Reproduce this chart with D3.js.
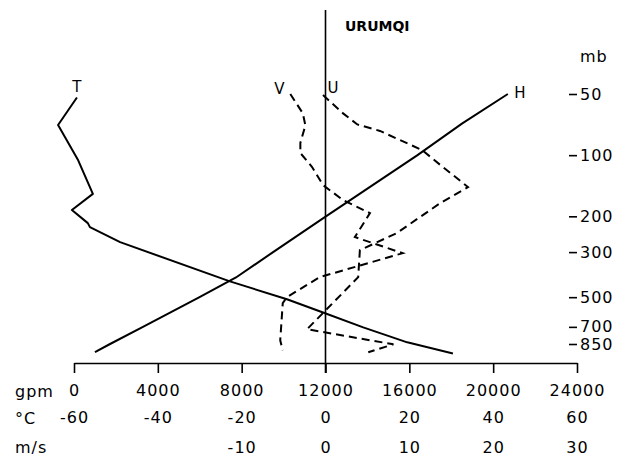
<!DOCTYPE html>
<html>
<head>
<meta charset="utf-8">
<script src="https://cdn.jsdelivr.net/npm/d3@7"></script>
<style>
  body { margin: 0; background: #fff; }
  svg { display: block; font-family: "DejaVu Sans", sans-serif; }
</style>
</head>
<body>
<div id="chart"></div>
<script>
// tick labels
const pressureTicks = [50, 100, 200, 300, 500, 700, 850];
const gpmTicks = [0, 4000, 8000, 12000, 16000, 20000, 24000];
const tempTicks = [-60, -40, -20, 0, 20, 40, 60];
const windTicks = [-10, 0, 10, 20, 30];

// T (deg C) against pressure (mb)
const tempP = [52, 71, 106, 155, 186, 216, 226, 268, 418, 512, 600, 704, 834, 946];
const tempC = [-59.3, -63.8, -59.0, -55.5, -60.5, -56.7, -56.2, -49.0, -22.8, -9.2, -0.1, 9.0, 19.5, 30.4];

// H (gpm) against pressure
const heightP = [933, 850, 700, 500, 400, 300, 200, 150, 100, 70, 50];
const heightGpm = [1000, 1720, 3290, 5990, 7730, 9500, 12020, 13840, 16390, 18510, 20700];

// U wind (m/s)
const uP = [50.6, 62.3, 70.6, 76, 94.3, 111.8, 143.5, 172, 241.8, 293.6, 398.6, 719, 853, 933];
const uMs = [-0.3, 2.1, 3.8, 6.5, 11.5, 13.7, 17.0, 13.7, 8.5, 4.1, 3.9, -2.2, 8.1, 5.1];

// V wind (m/s)
const vP = [50, 62.3, 71.4, 87.1, 97.6, 114.4, 140.4, 166.4, 192.8, 253, 303.6, 398.6, 500, 535, 815, 913];
const vMs = [-4.2, -2.7, -2.4, -3.0, -3.0, -1.6, -0.3, 2.1, 5.3, 3.5, 9.2, -0.7, -4.6, -5.1, -5.4, -5.1];

const width = 623, height = 459;

const svg = d3.select("#chart").append("svg")
    .attr("width", width)
    .attr("height", height);

svg.append("rect").attr("width", width).attr("height", height).attr("fill", "#fff");

// all three bottom scales share the same pixel range
const x = d3.scaleLinear().domain([0, 24000]).range([74, 577]);
const xT = d3.scaleLinear().domain([-60, 60]).range([74, 577]);
const xW = d3.scaleLinear().domain([-30, 30]).range([74, 577]);
const y = d3.scaleLog().domain([50, 850]).range([94, 344]);

function styleAxis(g) {
    g.attr("font-family", null)
        .attr("font-size", 16)
        .attr("letter-spacing", 1);
    g.selectAll("line").attr("stroke", "#000").attr("stroke-width", 1.6);
    g.selectAll("path").attr("stroke", "#000").attr("stroke-width", 1.6);
    g.selectAll("text").attr("fill", "#000");
}

// gpm axis
svg.append("g")
    .attr("transform", "translate(0,363)")
    .call(d3.axisBottom(x).tickValues(gpmTicks).tickSize(10).tickSizeOuter(0).tickPadding(12).tickFormat(String))
    .call(styleAxis);

// deg C row
svg.append("g")
    .attr("transform", "translate(0,412)")
    .call(d3.axisBottom(xT).tickValues(tempTicks).tickSize(0).tickPadding(0).tickFormat(String))
    .call(styleAxis)
    .call(g => g.select(".domain").remove());

// m/s row
svg.append("g")
    .attr("transform", "translate(0,442)")
    .call(d3.axisBottom(xW).tickValues(windTicks).tickSize(0).tickPadding(0).tickFormat(String))
    .call(styleAxis)
    .call(g => g.select(".domain").remove());

// pressure axis on the right
svg.append("g")
    .attr("transform", "translate(569,0)")
    .call(d3.axisRight(y).tickValues(pressureTicks).tickSize(8).tickPadding(3).tickFormat(String))
    .call(styleAxis)
    .call(g => g.select(".domain").remove());

// row / axis names
const names = [["gpm", 15, 397], ["°C", 15, 424], ["m/s", 15, 453], ["mb", 580, 62]];
svg.selectAll(".name")
    .data(names)
    .enter().append("text")
    .attr("class", "name")
    .attr("x", d => d[1])
    .attr("y", d => d[2])
    .attr("font-size", 16)
    .attr("letter-spacing", 1)
    .text(d => d[0]);

// zero wind line
svg.append("line")
    .attr("x1", xW(0)).attr("x2", xW(0))
    .attr("y1", 10).attr("y2", 373)
    .attr("stroke", "#000")
    .attr("stroke-width", 1.6);

svg.append("text")
    .attr("x", 345)
    .attr("y", 31)
    .attr("font-size", 14)
    .attr("font-weight", "bold")
    .text("URUMQI");

const line = d3.line().x(d => d[0]).y(d => d[1]);

// T
svg.append("path")
    .datum(tempP.map((p, i) => [xT(tempC[i]), y(p)]))
    .attr("fill", "none")
    .attr("stroke", "#000")
    .attr("stroke-width", 2)
    .attr("stroke-linejoin", "round")
    .attr("d", line);

// H
svg.append("path")
    .datum(heightP.map((p, i) => [x(heightGpm[i]), y(p)]))
    .attr("fill", "none")
    .attr("stroke", "#000")
    .attr("stroke-width", 2)
    .attr("d", line);

// U
svg.append("path")
    .datum(uP.map((p, i) => [xW(uMs[i]), y(p)]))
    .attr("fill", "none")
    .attr("stroke", "#000")
    .attr("stroke-width", 2)
    .attr("stroke-dasharray", "8,5")
    .attr("d", line);

// V
svg.append("path")
    .datum(vP.map((p, i) => [xW(vMs[i]), y(p)]))
    .attr("fill", "none")
    .attr("stroke", "#000")
    .attr("stroke-width", 2)
    .attr("stroke-dasharray", "8,5")
    .attr("d", line);

// curve labels
const curveLabels = [
    ["T", xT(tempC[0]), y(tempP[0]) - 5],
    ["V", xW(vMs[0]) - 11, y(vP[0])],
    ["U", xW(uMs[0]) + 10, y(uP[0]) - 2],
    ["H", x(heightGpm[heightGpm.length - 1]) + 12, y(heightP[heightP.length - 1]) + 4]
];
svg.selectAll(".clabel")
    .data(curveLabels)
    .enter().append("text")
    .attr("class", "clabel")
    .attr("x", d => d[1])
    .attr("y", d => d[2])
    .attr("text-anchor", "middle")
    .attr("font-size", 15)
    .text(d => d[0]);
</script>
</body>
</html>
